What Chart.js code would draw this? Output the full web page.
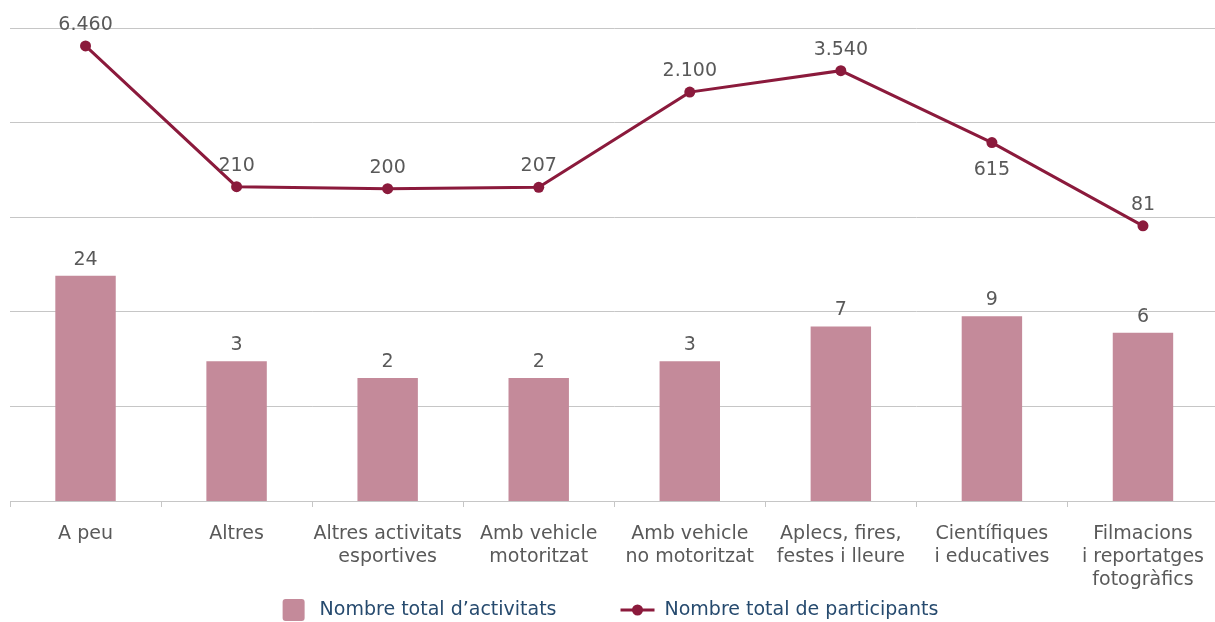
<!DOCTYPE html>
<html>
<head>
<meta charset="utf-8">
<script src="https://cdn.jsdelivr.net/npm/chart.js@4/dist/chart.umd.min.js"></script>
<style>
  html, body { margin: 0; padding: 0; background: #fff; overflow: hidden; }
  #wrap { width: 1215px; height: 622px; overflow: hidden; }
</style>
</head>
<body>
<div id="wrap"><canvas id="chart" width="1224" height="622"></canvas></div>
<script>
// chart data
const categories = [
  ["A peu"],
  ["Altres"],
  ["Altres activitats", "esportives"],
  ["Amb vehicle", "motoritzat"],
  ["Amb vehicle", "no motoritzat"],
  ["Aplecs, fires,", "festes i lleure"],
  ["Científiques", "i educatives"],
  ["Filmacions", "i reportatges", "fotogràfics"],
]
const activitats = [24, 3, 2, 2, 3, 7, 9, 6]
const participants = [6460, 210, 200, 207, 2100, 3540, 615, 81]
const participantLabelSide = ["above", "above", "above", "above", "above", "above", "below", "above"]
const gridTicks = [0.1, 1, 10, 100, 1000, 10000]
const legendNames = ["Nombre total d\u2019activitats", "Nombre total de participants"]

const BAR = "#c48a9a"
const LINE = "#8b1a3c"
const TEXT = "#595959"
const LEGEND_TEXT = "#264a6e"
const GRID = "#c6c6c6"
const FONT = "'DejaVu Sans', Verdana, sans-serif"
const VIEW_W = 1215 // visible page width, the canvas runs a bit past it

// 6460 -> "6.460"
function formatNum(v) {
  return String(v).replace(/\B(?=(\d{3})+(?!\d))/g, ".")
}

const valueLabels = {
  id: "valueLabels",
  afterDatasetsDraw(chart) {
    const ctx = chart.ctx
    ctx.save()
    ctx.font = "19px " + FONT
    ctx.fillStyle = TEXT
    ctx.textAlign = "center"
    ctx.textBaseline = "alphabetic"
    chart.getDatasetMeta(0).data.forEach((bar, i) => {
      ctx.fillText(formatNum(activitats[i]), bar.x, bar.y - 11)
    })
    chart.getDatasetMeta(1).data.forEach((pt, i) => {
      if (participantLabelSide[i] === "below") {
        ctx.fillText(formatNum(participants[i]), pt.x, pt.y + 32)
      } else {
        ctx.fillText(formatNum(participants[i]), pt.x, pt.y - 16)
      }
    })
    ctx.restore()
  }
}

// legend drawn by hand so the spacing can match
const bottomLegend = {
  id: "bottomLegend",
  afterDraw(chart) {
    const ctx = chart.ctx
    ctx.save()
    ctx.font = "19px " + FONT
    const w0 = ctx.measureText(legendNames[0]).width
    const w1 = ctx.measureText(legendNames[1]).width
    const total = 22 + 15 + w0 + 64 + 34 + 10 + w1
    let x = (VIEW_W - total) / 2 + 3
    const y = 610

    ctx.fillStyle = BAR
    ctx.beginPath()
    ctx.roundRect(x, y - 11, 22, 22, 3)
    ctx.fill()
    x += 22 + 15
    ctx.fillStyle = LEGEND_TEXT
    ctx.textBaseline = "middle"
    ctx.fillText(legendNames[0], x, y)
    x += w0 + 64

    ctx.strokeStyle = LINE
    ctx.lineWidth = 3
    ctx.beginPath()
    ctx.moveTo(x, y)
    ctx.lineTo(x + 34, y)
    ctx.stroke()
    ctx.fillStyle = LINE
    ctx.beginPath()
    ctx.arc(x + 17, y, 5.5, 0, Math.PI * 2)
    ctx.fill()
    x += 34 + 10
    ctx.fillStyle = LEGEND_TEXT
    ctx.fillText(legendNames[1], x, y)
    ctx.restore()
  }
}

new Chart(document.getElementById("chart"), {
  type: "bar",
  data: {
    labels: categories,
    datasets: [
      {
        type: "bar",
        label: legendNames[0],
        data: activitats,
        backgroundColor: BAR,
        barPercentage: 0.4,
        categoryPercentage: 1,
        order: 1,
      },
      {
        type: "line",
        label: legendNames[1],
        data: participants,
        borderColor: LINE,
        backgroundColor: LINE,
        borderWidth: 3,
        pointRadius: 5.5,
        pointBackgroundColor: LINE,
        pointBorderWidth: 0,
        tension: 0,
        order: 0,
      },
    ],
  },
  options: {
    responsive: false,
    animation: false,
    devicePixelRatio: 1,
    layout: { padding: { left: 10, right: 0, top: 28, bottom: 30 } },
    plugins: {
      legend: { display: false },
      tooltip: { enabled: false },
    },
    scales: {
      x: {
        offset: true,
        grid: { display: true, drawOnChartArea: false, tickLength: 6, color: GRID, offset: true },
        border: { color: GRID },
        ticks: {
          color: TEXT,
          font: { family: FONT, size: 19, lineHeight: 1.2 },
          padding: 16,
          maxRotation: 0,
          autoSkip: false,
        },
        afterFit: (scale) => { scale.height = 91 },
      },
      y: {
        type: "logarithmic",
        min: 0.1,
        max: 10000,
        grid: { color: GRID, drawTicks: false },
        border: { display: false },
        ticks: { display: false },
        afterBuildTicks: (scale) => {
          scale.ticks = gridTicks.map((v) => ({ value: v }))
        },
      },
    },
  },
  plugins: [valueLabels, bottomLegend],
})
</script>
</body>
</html>
